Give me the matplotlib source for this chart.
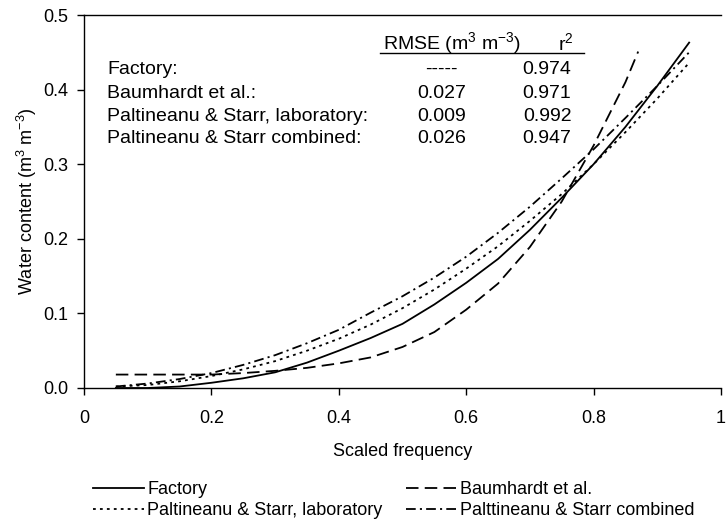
import matplotlib
matplotlib.use("Agg")
import matplotlib.pyplot as plt

plt.rcParams['font.family'] = ['Liberation Sans', 'DejaVu Sans']
plt.rcParams['mathtext.fontset'] = 'custom'
plt.rcParams['mathtext.rm'] = 'Liberation Sans'
plt.rcParams['mathtext.it'] = 'Liberation Sans'
plt.rcParams['lines.scale_dashes'] = False

# scaled frequency grid for the calibration curves
freq = [0.05, 0.10, 0.15, 0.20, 0.25, 0.30, 0.35, 0.40, 0.45, 0.50,
        0.55, 0.60, 0.65, 0.70, 0.75, 0.80, 0.85, 0.90, 0.95]
freq_baum = [0.05, 0.10, 0.15, 0.20, 0.25, 0.30, 0.35, 0.40, 0.45, 0.50,
             0.55, 0.60, 0.65, 0.70, 0.75, 0.80, 0.85, 0.87]

factory = [0.000, 0.000, 0.002, 0.007, 0.013, 0.021, 0.034, 0.050, 0.067, 0.086,
           0.112, 0.141, 0.173, 0.212, 0.255, 0.300, 0.350, 0.405, 0.463]
baumhardt = [0.018, 0.018, 0.018, 0.018, 0.020, 0.023, 0.027, 0.033, 0.041, 0.055,
             0.075, 0.105, 0.140, 0.189, 0.250, 0.325, 0.410, 0.451]
lab = [0.002, 0.004, 0.009, 0.016, 0.025, 0.036, 0.050, 0.066, 0.085, 0.107,
       0.132, 0.160, 0.190, 0.224, 0.260, 0.300, 0.343, 0.388, 0.436]
combined = [0.002, 0.006, 0.012, 0.020, 0.031, 0.044, 0.060, 0.078, 0.101, 0.123,
            0.148, 0.176, 0.208, 0.243, 0.281, 0.320, 0.362, 0.405, 0.450]

# goodness-of-fit table
row_labels = ['Factory:', 'Baumhardt et al.:', 'Paltineanu & Starr, laboratory:',
              'Paltineanu & Starr combined:']
rmse = ['-----', '0.027', '0.009', '0.026']
r2 = ['0.974', '0.971', '0.992', '0.947']

fig = plt.figure(figsize=(7.27, 5.26), dpi=100)
ax = fig.add_axes([84 / 727, 1 - 388 / 526, 637 / 727, 373 / 526])

lw = 1.3
l1, = ax.plot(freq, factory, color='black', lw=lw, label='Factory')
l2, = ax.plot(freq_baum, baumhardt, color='black', lw=lw, dashes=(9, 4.5),
              label='Baumhardt et al.')
l3, = ax.plot(freq, lab, color='black', lw=lw, dashes=(2, 3),
              label='Paltineanu & Starr, laboratory')
l4, = ax.plot(freq, combined, color='black', lw=lw, dashes=(7, 3, 1.5, 3),
              label='Palttineanu & Starr combined')

ax.set_xlim(0, 1)
ax.set_ylim(0, 0.5)
ax.set_xticks([0, 0.2, 0.4, 0.6, 0.8, 1])
ax.set_xticklabels(['0', '0.2', '0.4', '0.6', '0.8', '1'])
ax.set_yticks([0, 0.1, 0.2, 0.3, 0.4, 0.5])
ax.set_yticklabels(['0.0', '0.1', '0.2', '0.3', '0.4', '0.5'])
ax.tick_params(axis='both', direction='out', length=5, width=1, labelsize=13)
ax.tick_params(axis='x', pad=11)
ax.tick_params(axis='y', pad=6)
ax.spines['right'].set_visible(False)
for s in ['left', 'bottom', 'top']:
    ax.spines[s].set_linewidth(1)

ax.set_xlabel('Scaled frequency', fontsize=13, labelpad=11)
ax.set_ylabel(r'Water content (m$^{3}$ m$^{\mathrm{-3}}$)', fontsize=13, labelpad=3)

# table of fit statistics inside the plot
fs = 14
ax.text(0.578, 0.4625, r'RMSE (m$^{3}$ m$^{\mathrm{-3}}$)', ha='center', va='center', fontsize=fs)
ax.text(0.757, 0.4625, r'r$^{2}$', ha='center', va='center', fontsize=fs)
ax.plot([0.465, 0.785], [0.4495, 0.4495], color='black', lw=1)
row_y = [0.4276, 0.3954, 0.3633, 0.3338]
for lab_txt, rm, r, y in zip(row_labels, rmse, r2, row_y):
    ax.text(0.036, y, lab_txt, ha='left', va='center', fontsize=fs)
    ax.text(0.561, y, rm, ha='center', va='center', fontsize=fs)
    ax.text(0.727, y, r, ha='center', va='center', fontsize=fs)

# legend filled row by row: Factory | Baumhardt, laboratory | combined
fig.legend(handles=[l1, l3, l2, l4], ncol=2, loc='upper left',
           bbox_to_anchor=(86 / 727, 1 - 474 / 526), frameon=False,
           fontsize=13, handlelength=2.8, handletextpad=0.2,
           columnspacing=1.3, labelspacing=0.2, borderaxespad=0)

fig.savefig('out.png', dpi=100)
